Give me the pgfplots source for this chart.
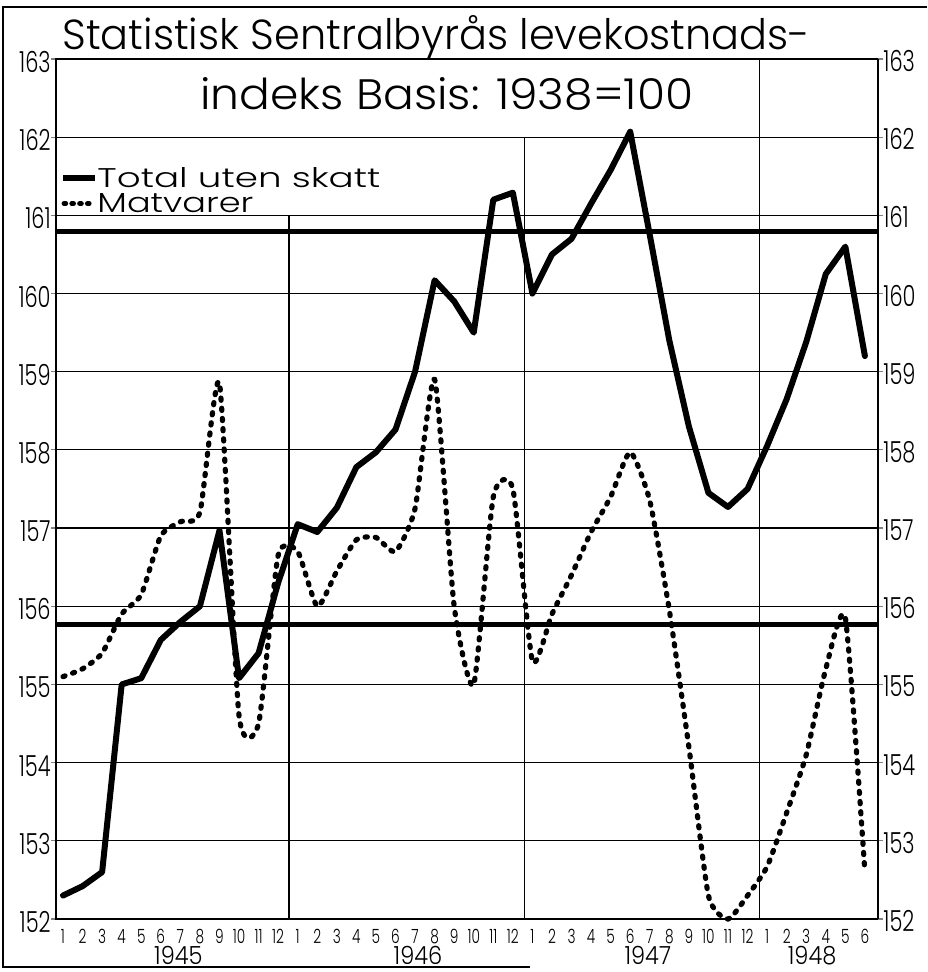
\documentclass[border=0pt]{standalone}
\usepackage{pgfplots}
\usepackage{pgfplotstable}
\usepackage{graphicx}
\pgfplotsset{compat=1.18}
\usepackage{fontspec}
\setmainfont{Poppins Light}
\newcommand\nar[1]{\scalebox{0.72}[1]{#1}}
\newcommand\narm[1]{\scalebox{0.7}[1]{#1}}
\newcommand\nary[1]{\scalebox{0.9}[1]{#1}}

\pgfplotstableread{
x  total   food
0  152.30  155.10
1  152.42  155.20
2  152.60  155.40
3  155.00  155.90
4  155.08  156.15
5  155.57  156.90
6  155.80  157.08
7  156.00  157.20
8  156.97  158.85
9  155.08  154.60
10 155.40  154.50
11 156.30  156.65
12 157.05  156.70
13 156.95  156.00
14 157.26  156.45
15 157.78  156.85
16 157.97  156.88
17 158.26  156.70
18 159.00  157.25
19 160.17  158.90
20 159.90  156.00
21 159.50  155.00
22 161.20  157.40
23 161.29  157.50
24 160.00  155.30
25 160.50  155.90
26 160.70  156.40
27 161.15  156.95
28 161.58  157.40
29 162.07  157.97
30 160.75  157.35
31 159.40  155.95
32 158.30  154.20
33 157.45  152.30
34 157.27  152.00
35 157.50  152.30
36 158.05  152.67
37 158.65  153.36
38 159.38  154.10
39 160.25  155.20
40 160.60  155.85
41 159.20  152.60
}\data

\begin{document}
\begin{tikzpicture}
\useasboundingbox (0,0) rectangle (463.5pt,486pt);
\draw[line width=0.8pt] (265pt,2.5pt) -- (1.5pt,2.5pt) -- (1.5pt,482.5pt) -- (463.5pt,482.5pt);
\begin{axis}[
  at={(28pt,26.5pt)}, anchor=south west,
  width=411pt, height=430pt, scale only axis,
  xmin=-0.358, xmax=41.67, ymin=152, ymax=163,
  clip=false,
  axis line style={line width=0.8pt},
  xtick={0,...,41},
  xticklabel={\pgfmathtruncatemacro\m{mod(\ticknum,12)+1}\narm{\m}},
  xticklabel style={font=\fontsize{9.8}{9.8}\selectfont, anchor=center, inner sep=0pt, yshift=-6.2pt},
  x tick style={draw=none},
  ytick={152,...,163},
  ytick pos=left,
  yticklabel={\pgfmathtruncatemacro\v{152+\ticknum}\nar{\v}},
  yticklabel style={font=\fontsize{14.5}{14.5}\selectfont, anchor=east, inner sep=0pt, yshift=-1.5pt},
  tick align=outside,
  major tick length=2.5pt,
  y tick style={line width=0.6pt},
]
% grid
\pgfplotsinvokeforeach{153,...,162}{
  \draw[line width=0.6pt] (axis cs:-0.358,#1) -- (axis cs:41.67,#1);
}
\draw[line width=0.6pt] (axis cs:11.55,152) -- (axis cs:11.55,161);
\draw[line width=0.6pt] (axis cs:23.6,152) -- (axis cs:23.6,162);
\draw[line width=0.6pt] (axis cs:35.6,152) -- (axis cs:35.6,163);

% reference levels
\addplot[line width=2.6pt, forget plot] coordinates {(-0.358,160.79) (41.67,160.79)};
\addplot[line width=2.6pt, forget plot] coordinates {(-0.358,155.77) (41.67,155.77)};

% series
\addplot[line width=3pt, line join=round, line cap=round] table[x=x,y=total]{\data};
\addplot[line width=2.6pt, dash pattern=on 1.1pt off 4pt, line cap=round, smooth, tension=0.35] table[x=x,y=food]{\data};

% titles
\node[anchor=base west, inner sep=0pt] at (axis cs:-0.05,163.115)
  {\resizebox{374pt}{17pt}{\fontsize{22}{22}\selectfont Statistisk Sentralbyrås levekostnads-}};
\node[anchor=base west, inner sep=0pt] at (axis cs:7.0,162.35)
  {\resizebox{246.5pt}{16pt}{\fontsize{22}{22}\selectfont indeks Basis: 1938=100}};

% legend
\draw[line width=3pt] (axis cs:0,161.48) -- (axis cs:1.64,161.48);
\node[anchor=base west, inner sep=0pt] at (axis cs:1.74,161.36)
  {\resizebox{141.5pt}{10pt}{\fontsize{14}{14}\selectfont Total uten skatt}};
\draw[line width=2.4pt, dash pattern=on 0.9pt off 3pt, line cap=round] (axis cs:0.05,161.15) -- (axis cs:1.6,161.15);
\node[anchor=base west, inner sep=0pt] at (axis cs:1.74,161.04)
  {\resizebox{78pt}{9.5pt}{\fontsize{14}{14}\selectfont Matvarer}};

% years
\node[font=\fontsize{12.5}{12.5}\selectfont, anchor=center, inner sep=0pt] at ([yshift=-18.2pt]axis cs:5.9,152) {\nary{1945}};
\node[font=\fontsize{12.5}{12.5}\selectfont, anchor=center, inner sep=0pt] at ([yshift=-18.2pt]axis cs:18.15,152) {\nary{1946}};
\node[font=\fontsize{12.5}{12.5}\selectfont, anchor=center, inner sep=0pt] at ([yshift=-18.2pt]axis cs:29.9,152) {\nary{1947}};
\node[font=\fontsize{12.5}{12.5}\selectfont, anchor=center, inner sep=0pt] at ([yshift=-18.2pt]axis cs:38.3,152) {\nary{1948}};
\end{axis}

\begin{axis}[
  at={(28pt,26.5pt)}, anchor=south west,
  width=411pt, height=430pt, scale only axis,
  xmin=-0.358, xmax=41.67, ymin=152, ymax=163,
  hide x axis,
  axis y line*=right,
  axis line style={line width=0.8pt},
  ytick={152,...,163},
  yticklabel={\pgfmathtruncatemacro\v{152+\ticknum}\nar{\v}},
  yticklabel style={font=\fontsize{14.5}{14.5}\selectfont, anchor=west, inner sep=0pt, yshift=-1pt},
  tick align=outside,
  major tick length=2.5pt,
  y tick style={line width=0.6pt},
]
\addplot[draw=none] coordinates {(0,152)};
\end{axis}
\end{tikzpicture}
\end{document}
